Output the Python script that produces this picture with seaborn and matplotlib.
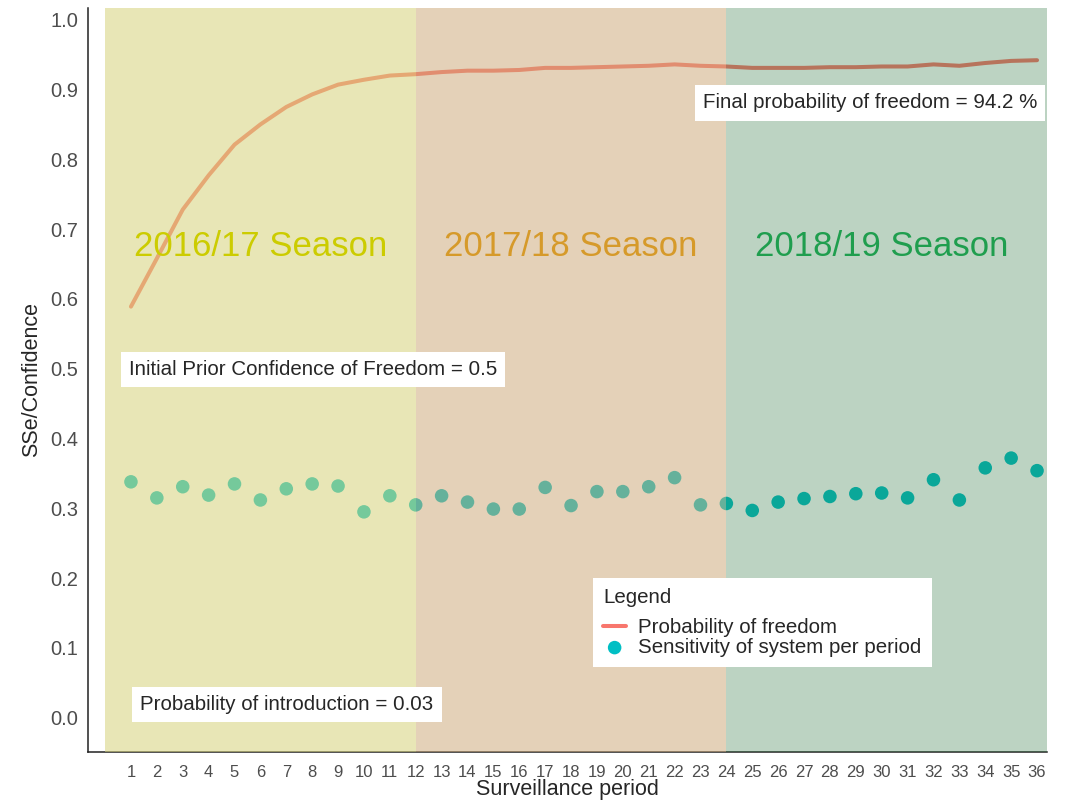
import matplotlib
matplotlib.use("Agg")
import matplotlib.pyplot as plt
import seaborn as sns
import pandas as pd

# style
sns.set_style("white")
plt.rcParams['font.family'] = ['Liberation Sans', 'DejaVu Sans']

# ---------------- data ----------------
periods = list(range(1, 37))

prob_freedom = [0.589, 0.658, 0.728, 0.777, 0.821, 0.850, 0.875, 0.893, 0.907,
                0.914, 0.920, 0.922, 0.925, 0.927, 0.927, 0.928, 0.931, 0.931,
                0.932, 0.933, 0.934, 0.936, 0.934, 0.933, 0.931, 0.931, 0.931,
                0.932, 0.932, 0.933, 0.933, 0.936, 0.934, 0.938, 0.941, 0.942]

sensitivity = [0.338, 0.315, 0.331, 0.319, 0.335, 0.312, 0.328, 0.335, 0.332,
               0.295, 0.318, 0.305, 0.318, 0.309, 0.299, 0.299, 0.330, 0.304,
               0.324, 0.324, 0.331, 0.344, 0.305, 0.307, 0.297, 0.309, 0.314,
               0.317, 0.321, 0.322, 0.315, 0.341, 0.312, 0.358, 0.372, 0.354]

seasons = ["2016/17 Season", "2017/18 Season", "2018/19 Season"]
season_start = [0, 12, 24]
season_end = [12, 24, 36.38]
season_mid = [6, 18, 30]
season_text_colors = ["#cccc00", "#d69a2a", "#1f9e4e"]
season_fills = ["#d6d27a", "#cba573", "#237037"]
season_alpha = [0.55, 0.5, 0.3]

df = pd.DataFrame({"period": periods, "pof": prob_freedom, "sse": sensitivity})

# ---------------- plot ----------------
fig = plt.figure(figsize=(10.69, 8.01), dpi=100)
ax = fig.add_axes([0.0823, 0.0612, 0.897, 0.929])

sns.lineplot(data=df, x="period", y="pof", color="#F8766D", linewidth=2.9,
             label="Probability of freedom", ax=ax, zorder=2)
sns.scatterplot(data=df, x="period", y="sse", color="#00BFC4", s=95,
                edgecolor="none", label="Sensitivity of system per period",
                ax=ax, zorder=2)

# translucent season bands drawn over the data
for x0, x1, fc, a in zip(season_start, season_end, season_fills, season_alpha):
    ax.axvspan(x0, x1, facecolor=fc, alpha=a, lw=0, zorder=3)

for name, xm, col in zip(seasons, season_mid, season_text_colors):
    ax.text(xm, 0.675, name, color=col, fontsize=25, ha="center", va="center", zorder=4)

box = dict(boxstyle="square,pad=0.4", fc="white", ec="none")
ax.text(8.03, 0.499, "Initial Prior Confidence of Freedom = 0.5", fontsize=14.8,
        ha="center", va="center", bbox=box, zorder=5)
ax.text(7.03, 0.019, "Probability of introduction = 0.03", fontsize=14.8,
        ha="center", va="center", bbox=box, zorder=5)
ax.text(29.55, 0.881, "Final probability of freedom = 94.2 %", fontsize=14.8,
        ha="center", va="center", bbox=box, zorder=5)

ax.set_xlim(-0.66, 36.38)
ax.set_ylim(-0.049, 1.017)
ax.set_xticks(periods)
ax.set_xticklabels([str(p) for p in periods], color="#4d4d4d", fontsize=12,
                   family=['Liberation Sans Narrow', 'Liberation Sans'])
ax.set_yticks([i / 10 for i in range(11)])
ax.set_yticklabels([f"{i / 10:.1f}" for i in range(11)], color="#4d4d4d", fontsize=14.5)
ax.tick_params(axis="both", length=3.5, color="#333333", width=0.8)
ax.tick_params(axis="x", pad=6)

ax.set_xlabel("Surveillance period", fontsize=15.5, labelpad=-1)
ax.set_ylabel("SSe/Confidence", fontsize=15.5, labelpad=6)

for side in ["top", "right"]:
    ax.spines[side].set_visible(False)
for side in ["left", "bottom"]:
    ax.spines[side].set_color("#222222")
    ax.spines[side].set_linewidth(1.1)

leg = ax.legend(title="Legend", loc="lower left", bbox_to_anchor=(0.516, 0.1),
                frameon=True, fancybox=False, fontsize=14.8, title_fontsize=14.8,
                handlelength=1.1, handletextpad=0.6, borderpad=0.5,
                labelspacing=0.05)
leg._legend_box.align = "left"
leg._legend_box.sep = 8
leg.get_frame().set_facecolor("white")
leg.get_frame().set_edgecolor("none")
leg.get_frame().set_alpha(1)
leg.set_zorder(6)

fig.savefig("out.png", dpi=100)
